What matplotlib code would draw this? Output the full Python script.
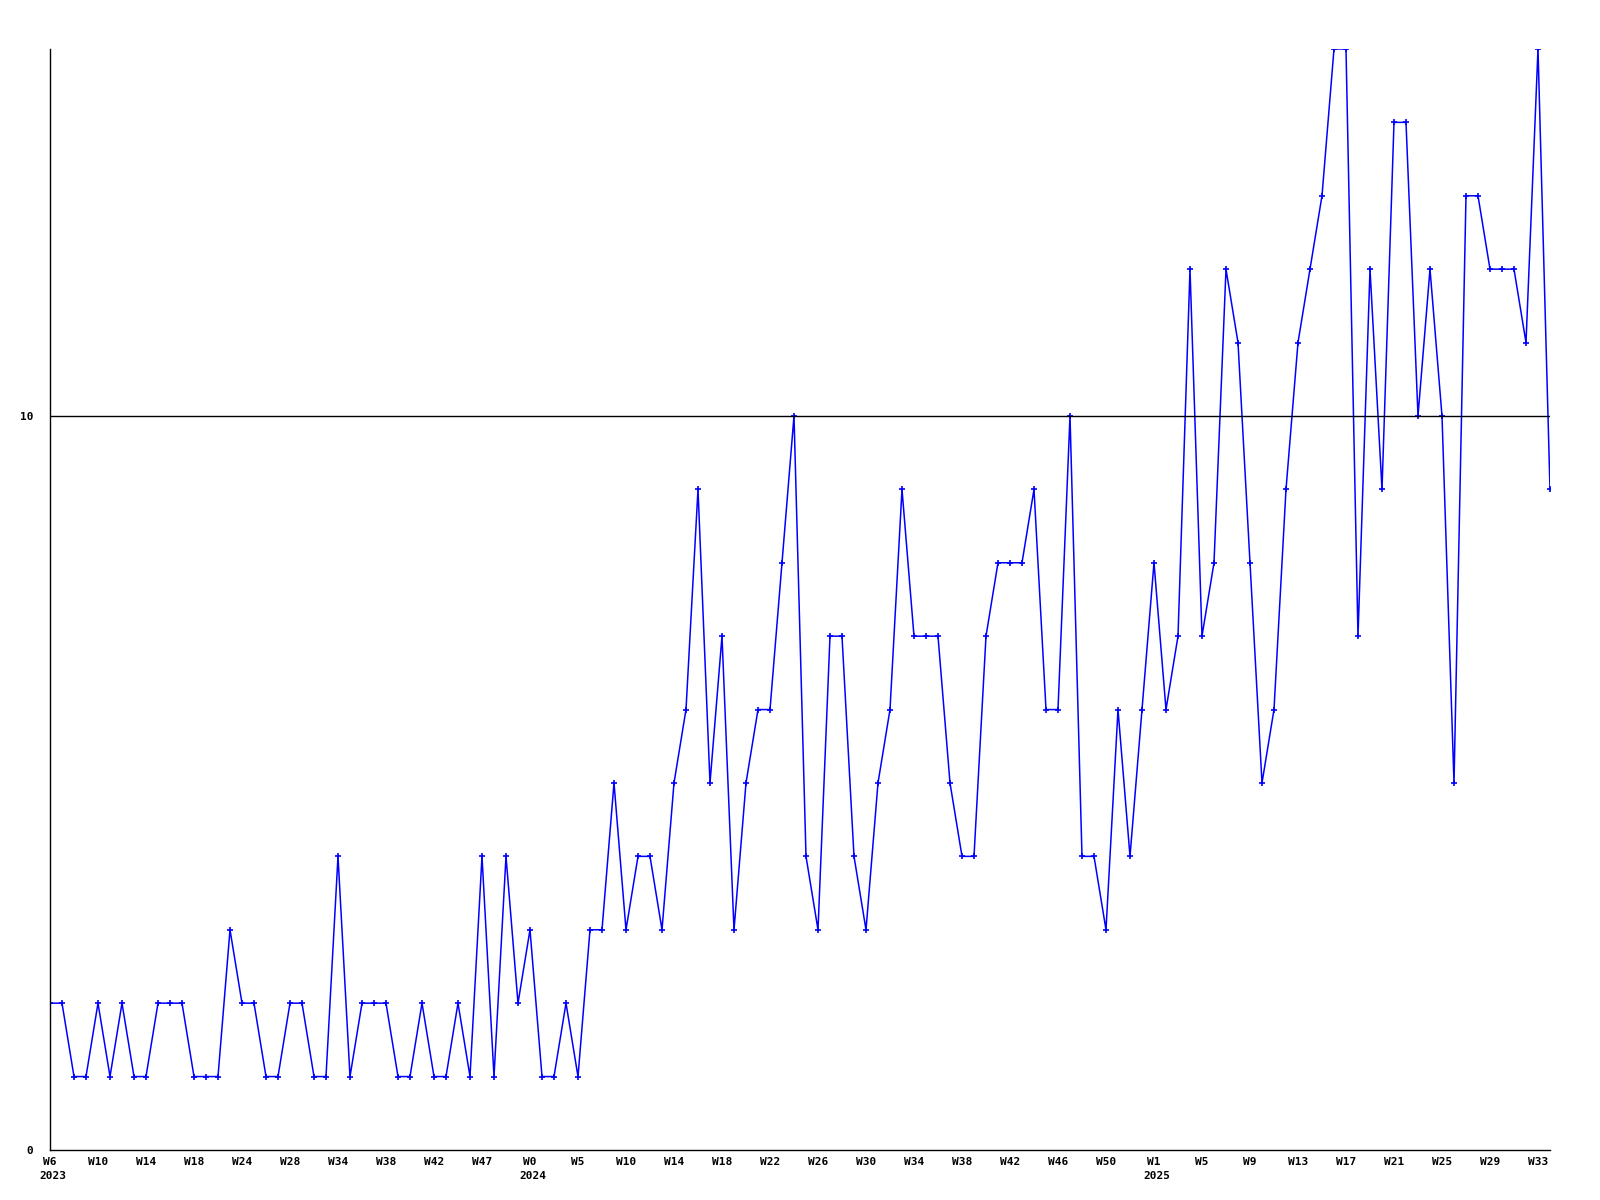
import matplotlib
matplotlib.use("Agg")
from matplotlib import pyplot as plt

# weekly counts, W6 2023 .. W34 2025
counts = [2, 2, 1, 1, 2, 1, 2, 1, 1, 2, 2, 2, 1, 1, 1, 3, 2, 2, 1, 1,
          2, 2, 1, 1, 4, 1, 2, 2, 2, 1, 1, 2, 1, 1, 2, 1, 4, 1, 4, 2,
          3, 1, 1, 2, 1, 3, 3, 5, 3, 4, 4, 3, 5, 6, 9, 5, 7, 3, 5, 6,
          6, 8, 10, 4, 3, 7, 7, 4, 3, 5, 6, 9, 7, 7, 7, 5, 4, 4, 7, 8,
          8, 8, 9, 6, 6, 10, 4, 4, 3, 6, 4, 6, 8, 6, 7, 12, 7, 8, 12, 11,
          8, 5, 6, 9, 11, 12, 13, 15, 15, 7, 12, 9, 14, 14, 10, 12, 10, 5, 13, 13,
          12, 12, 12, 11, 15, 9]

tick_labels = ["W6", "W10", "W14", "W18", "W24", "W28", "W34", "W38", "W42", "W47",
               "W0", "W5", "W10", "W14", "W18", "W22", "W26", "W30", "W34", "W38",
               "W42", "W46", "W50", "W1", "W5", "W9", "W13", "W17", "W21", "W25",
               "W29", "W33"]
years = {0: "2023", 10: "2024", 23: "2025"}

x = list(range(len(counts)))
ticks = [4 * k for k in range(len(tick_labels))]

fnt = "DejaVu Sans Mono"
fs = 8

fig = plt.figure(figsize=(16, 12), dpi=100)
ax = fig.add_axes([0.03125, 0.0417, 0.9375, 0.9175])
ax.plot(x, counts, color="#0000ff", lw=1.1, marker="+", ms=4, mew=1.2, clip_on=True)
ax.axhline(10, color="black", lw=1)

ax.set_xlim(0, len(counts) - 1)
ax.set_ylim(0, 15)
ax.spines["top"].set_visible(False)
ax.spines["right"].set_visible(False)
ax.spines["left"].set_linewidth(1)
ax.spines["bottom"].set_linewidth(1)

ax.set_xticks(ticks)
ax.set_xticklabels(tick_labels, fontfamily=fnt, fontweight="bold", fontsize=fs)
ax.set_yticks([0, 10])
ax.set_yticklabels(["0", "10"], fontfamily=fnt, fontweight="bold", fontsize=fs)
ax.tick_params(axis="x", length=0, pad=5)
ax.tick_params(axis="y", length=0, pad=12)

for k, yr in years.items():
    lab = tick_labels[k]
    ax.annotate(yr, xy=(ticks[k], 0), xycoords=("data", "axes fraction"),
                xytext=(-len(lab) * 0.3 * fs - 2.5, -15), textcoords="offset points",
                ha="left", va="top", fontfamily=fnt, fontweight="bold", fontsize=fs)

fig.savefig("out.png", dpi=100)
plt.close()
